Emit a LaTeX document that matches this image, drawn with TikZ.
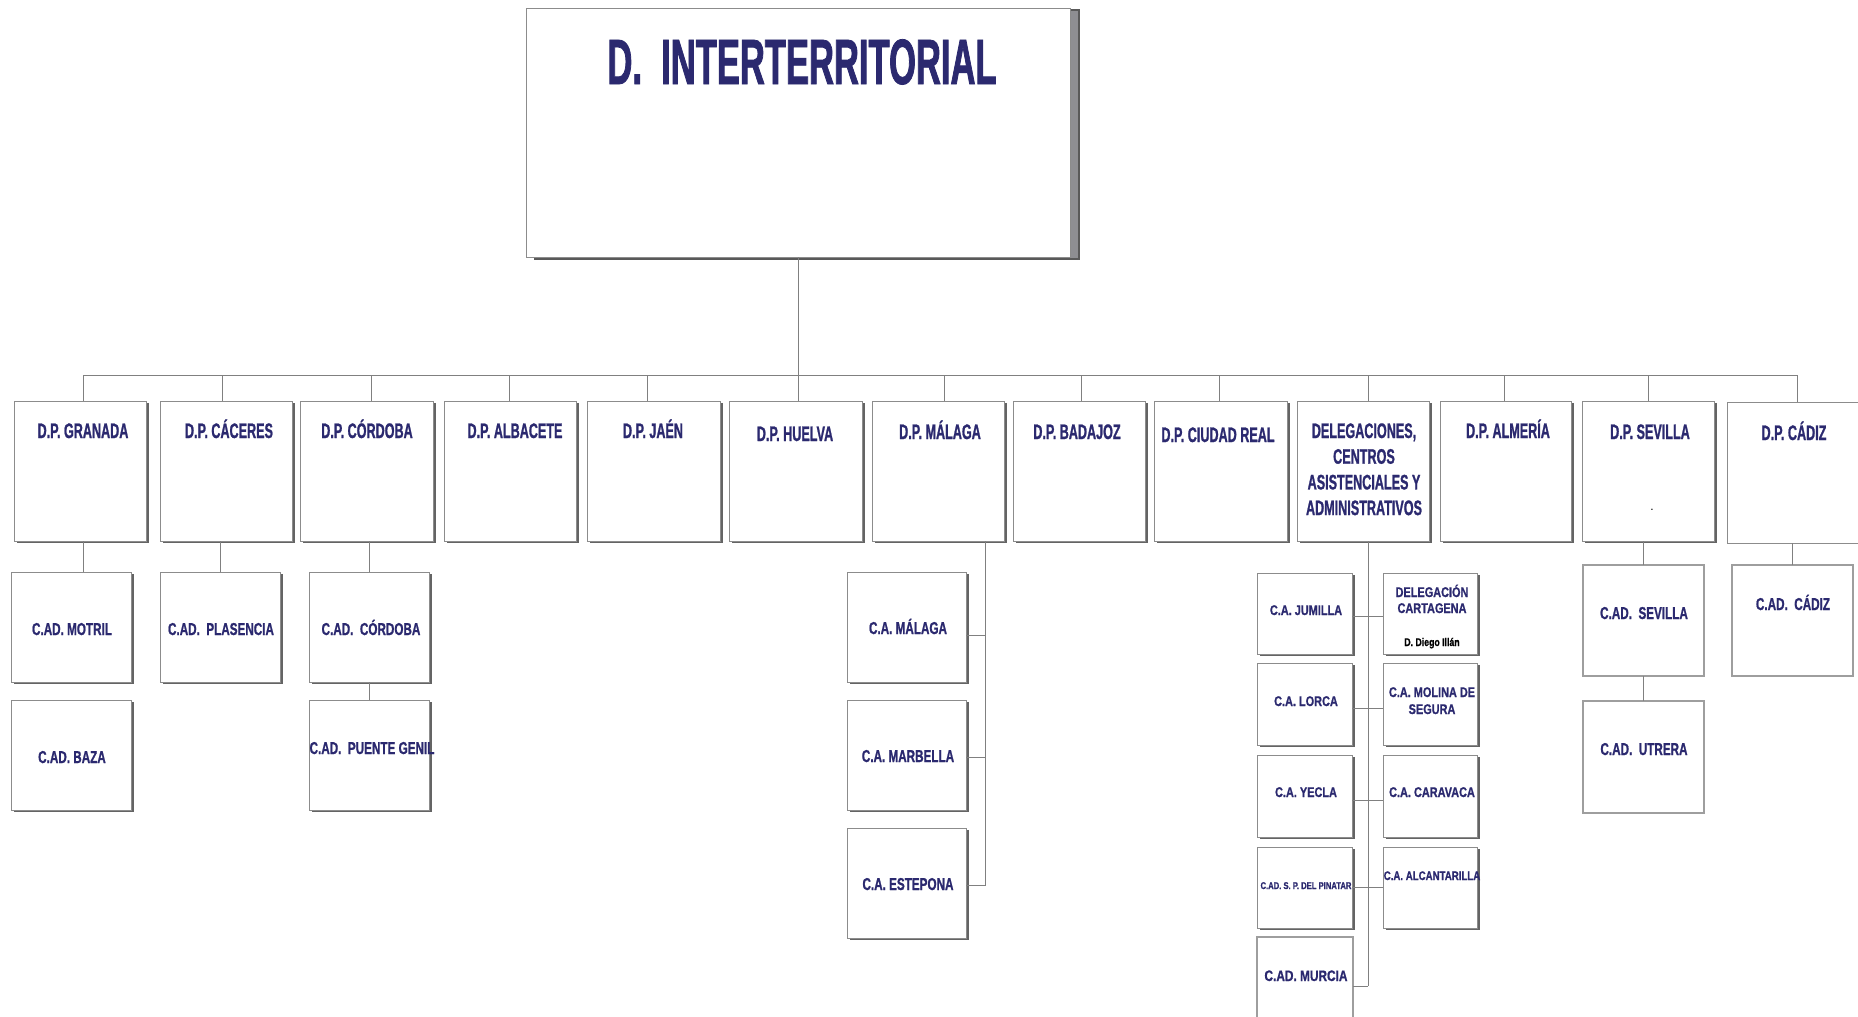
\documentclass[tikz,border=0pt]{standalone}
\usepackage{fontspec}
\setmainfont{Liberation Sans}
\newfontfamily\ftit[FakeStretch=0.54,BoldFeatures={FakeBold=1.2}]{Liberation Sans}
\newfontfamily\fdp[FakeStretch=0.6,BoldFeatures={FakeBold=1.0}]{Liberation Sans}
\newfontfamily\fsub[FakeStretch=0.68,BoldFeatures={FakeBold=0.9}]{Liberation Sans}
\newfontfamily\fmur[FakeStretch=0.78,BoldFeatures={FakeBold=0.8}]{Liberation Sans}
\usetikzlibrary{shadows}
\definecolor{navy}{RGB}{43,41,111}
\definecolor{edgec}{RGB}{140,140,140}
\definecolor{shad}{RGB}{100,100,100}
\definecolor{shadT}{RGB}{142,142,146}
\definecolor{connc}{RGB}{128,128,128}
\tikzset{
  basebox/.style={draw=edgec, line width=0.5pt, fill=white, inner sep=0pt, outer sep=0pt},
  shbox/.style={basebox, drop shadow={shadow xshift=1.6pt, shadow yshift=-0.8pt, fill=shad, opacity=1}},
  topbox/.style={basebox, drop shadow={shadow xshift=4.5pt, shadow yshift=-1pt, fill=shadT, draw=black!65, line width=0.6pt, opacity=1}},
  flatbox/.style={basebox, draw=black!38, line width=0.7pt},
  conn/.style={draw=connc, line width=0.5pt},
  lbl/.style={anchor=base, inner sep=0pt, outer sep=0pt, text=navy},
  ttl/.style={lbl, font=\ftit\bfseries\fontsize{32}{38}\selectfont},
  dpt/.style={lbl, font=\fdp\bfseries\fontsize{10.5}{12.85}\selectfont},
  subt/.style={lbl, font=\fsub\bfseries\fontsize{8.6}{10}\selectfont},
  murt/.style={lbl, font=\fmur\bfseries\fontsize{7}{8}\selectfont},
}
\newcommand\bx[6]{\node[#1, minimum width={(#5-#3)*0.5pt}, minimum height={(#6-#4)*0.5pt}] (#2) at ({(#3+#5)/2},{(#4+#6)/2}) {};}
\newcommand\stk[1]{\begin{tabular}[t]{@{}c@{}}#1\end{tabular}}
\begin{document}
\begin{tikzpicture}[x=0.5pt,y=-0.5pt]
\clip (0,0) rectangle (1858,1017);
\fill[white] (0,0) rectangle (1858,1017);
% top
\bx{topbox}{top}{526}{8}{1070}{257}
\node[ttl] (title) at (802,84) {D.\ \ INTERTERRITORIAL};
% level 1
\bx{shbox}{g}{14}{401}{146}{541}
\bx{shbox}{cac}{160}{401}{292}{541}
\bx{shbox}{cor}{300}{401}{433}{541}
\bx{shbox}{alb}{444}{401}{576}{541}
\bx{shbox}{jae}{587}{401}{720}{541}
\bx{shbox}{hue}{729}{401}{862}{541}
\bx{shbox}{mal}{872}{401}{1004}{541}
\bx{shbox}{bad}{1013}{401}{1145}{541}
\bx{shbox}{ciu}{1154}{401}{1287}{541}
\bx{shbox}{del}{1297}{401}{1429}{541}
\bx{shbox}{alm}{1440}{401}{1571}{541}
\bx{shbox}{sev}{1582}{401}{1714}{541}
\bx{basebox}{cad}{1727}{402}{1866}{543}
\node[dpt] (gt) at (83,438) {D.P. GRANADA};
\node[dpt] (cact) at (229,438) {D.P. CÁCERES};
\node[dpt] (cort) at (367,438) {D.P. CÓRDOBA};
\node[dpt] (albt) at (515,438) {D.P. ALBACETE};
\node[dpt] (jaet) at (653,438) {D.P. JAÉN};
\node[dpt] (huet) at (795,441) {D.P. HUELVA};
\node[dpt] (malt) at (940,439) {D.P. MÁLAGA};
\node[dpt] (badt) at (1077,439) {D.P. BADAJOZ};
\node[dpt] (ciut) at (1218,442) {D.P. CIUDAD REAL};
\node[dpt] (delt) at (1364,438) {\stk{DELEGACIONES,\\CENTROS\\ASISTENCIALES Y\\ADMINISTRATIVOS}};
\node[dpt] (almt) at (1508,438) {D.P. ALMERÍA};
\node[dpt] (sevt) at (1650,439) {D.P. SEVILLA};
\node[dpt] (cadt) at (1794,440) {D.P. CÁDIZ};
\node[anchor=base, inner sep=0pt, font=\fontsize{6}{6}\selectfont] (sevdot) at (1652,510) {.};
% level 2 (left)
\bx{shbox}{motr}{11}{572}{131}{682}
\bx{shbox}{baza}{11}{700}{131}{810}
\bx{shbox}{plas}{160}{572}{280}{682}
\bx{shbox}{ccor}{309}{572}{429}{682}
\bx{shbox}{pgen}{309}{700}{429}{810}
\node[subt] (motrt) at (72,635) {C.AD. MOTRIL};
\node[subt] (bazat) at (72,763) {C.AD. BAZA};
\node[subt] (plast) at (221,635) {C.AD.\ \ PLASENCIA};
\node[subt] (ccort) at (371,635) {C.AD.\ \ CÓRDOBA};
\node[subt] (pgent) at (372,754) {C.AD.\ \ PUENTE GENIL};
% malaga children
\bx{shbox}{cmal}{847}{572}{966}{682}
\bx{shbox}{cmar}{847}{700}{966}{810}
\bx{shbox}{cest}{847}{828}{966}{938}
\node[subt] (cmalt) at (908,634) {C.A. MÁLAGA};
\node[subt] (cmart) at (908,762) {C.A. MARBELLA};
\node[subt] (cestt) at (908,890) {C.A. ESTEPONA};
% murcia
\bx{shbox}{jum}{1257}{573}{1352}{654}
\bx{shbox}{lor}{1257}{663}{1352}{745}
\bx{shbox}{yec}{1257}{755}{1352}{837}
\bx{shbox}{pin}{1257}{847}{1352}{928}
\bx{flatbox}{mur}{1257}{937}{1353}{1035}
\bx{shbox}{cart}{1383}{573}{1477}{654}
\bx{shbox}{mol}{1383}{663}{1477}{745}
\bx{shbox}{car}{1383}{755}{1477}{837}
\bx{shbox}{alc}{1383}{847}{1477}{928}
\node[murt] (jumt) at (1306,615) {C.A. JUMILLA};
\node[murt] (lort) at (1306,706) {C.A. LORCA};
\node[murt] (yect) at (1306,797) {C.A. YECLA};
\node[murt, font=\fmur\bfseries\fontsize{4.9}{6}\selectfont] (pint) at (1306,889) {C.AD. S. P. DEL PINATAR};
\node[murt, font=\fmur\bfseries\fontsize{7.6}{9}\selectfont] (murt) at (1306,981) {C.AD. MURCIA};
\node[murt, font=\fmur\bfseries\fontsize{7}{8}\selectfont] (cartt) at (1432,597) {\stk{DELEGACIÓN\\CARTAGENA}};
\node[anchor=base, inner sep=0pt, text=black, font=\fmur\bfseries\fontsize{5.6}{6}\selectfont] (diego) at (1432,646) {D. Diego Illán};
\node[murt, font=\fmur\bfseries\fontsize{7}{8.5}\selectfont] (molt) at (1432,697) {\stk{C.A. MOLINA DE\\SEGURA}};
\node[murt] (cart2) at (1432,797) {C.A. CARAVACA};
\node[murt, font=\fmur\bfseries\fontsize{6.2}{7}\selectfont] (alct) at (1432,880) {C.A. ALCANTARILLA};
% sevilla, cadiz
\bx{flatbox}{csev}{1583}{565}{1704}{676}
\bx{flatbox}{utr}{1583}{701}{1704}{813}
\bx{flatbox}{ccad}{1732}{565}{1853}{676}
\node[subt] (csevt) at (1644,619) {C.AD.\ \ SEVILLA};
\node[subt] (utrt) at (1644,755) {C.AD.\ \ UTRERA};
\node[subt] (ccadt) at (1793,610) {C.AD.\ \ CÁDIZ};
% connectors
\draw[conn] (top.south) -- (top.south |- hue.north);
\foreach \x/\n in {83/g,222/cac,371/cor,509/alb,647/jae,944/mal,1081/bad,1219/ciu,1368/del,1504/alm,1648/sev,1797/cad}{
  \coordinate (b\n) at (\x,375);
  \draw[conn] (b\n) -- (b\n |- \n.north);
}
\draw[conn] (bg) -- (bcad);
\draw[conn] (g.south -| bg) -- (motr.north -| bg);
\draw[conn] (plas.north) -- (plas.north |- cac.south);
\draw[conn] (ccor.north) -- (ccor.north |- cor.south);
\draw[conn] (ccor.south) -- (pgen.north);
\coordinate (mv) at (985,886);
\draw[conn] (mal.south -| mv) -- (mv);
\draw[conn] ([yshift=-4pt]cmal.east) -- ([yshift=-4pt]cmal.east -| mv);
\draw[conn] ([yshift=-1pt]cmar.east) -- ([yshift=-1pt]cmar.east -| mv);
\draw[conn] ([yshift=-1pt]cest.east) -- ([yshift=-1pt]cest.east -| mv);
\coordinate (dv) at (1368,986);
\draw[conn] (dv |- del.south) -- (dv);
\draw[conn] ([yshift=-1.5pt]jum.east) -- ([yshift=-1.5pt]cart.west);
\draw[conn] ([yshift=-2pt]lor.east) -- ([yshift=-2pt]mol.west);
\draw[conn] ([yshift=-2pt]yec.east) -- ([yshift=-2pt]car.west);
\draw[conn] (pin.east) -- (alc.west);
\draw[conn] (mur.east) -- (mur.east -| dv);
\draw[conn] (csev.north) -- (csev.north |- sev.south);
\draw[conn] (csev.south) -- (utr.north);
\draw[conn] (ccad.north) -- (ccad.north |- cad.south);
\end{tikzpicture}
\end{document}
